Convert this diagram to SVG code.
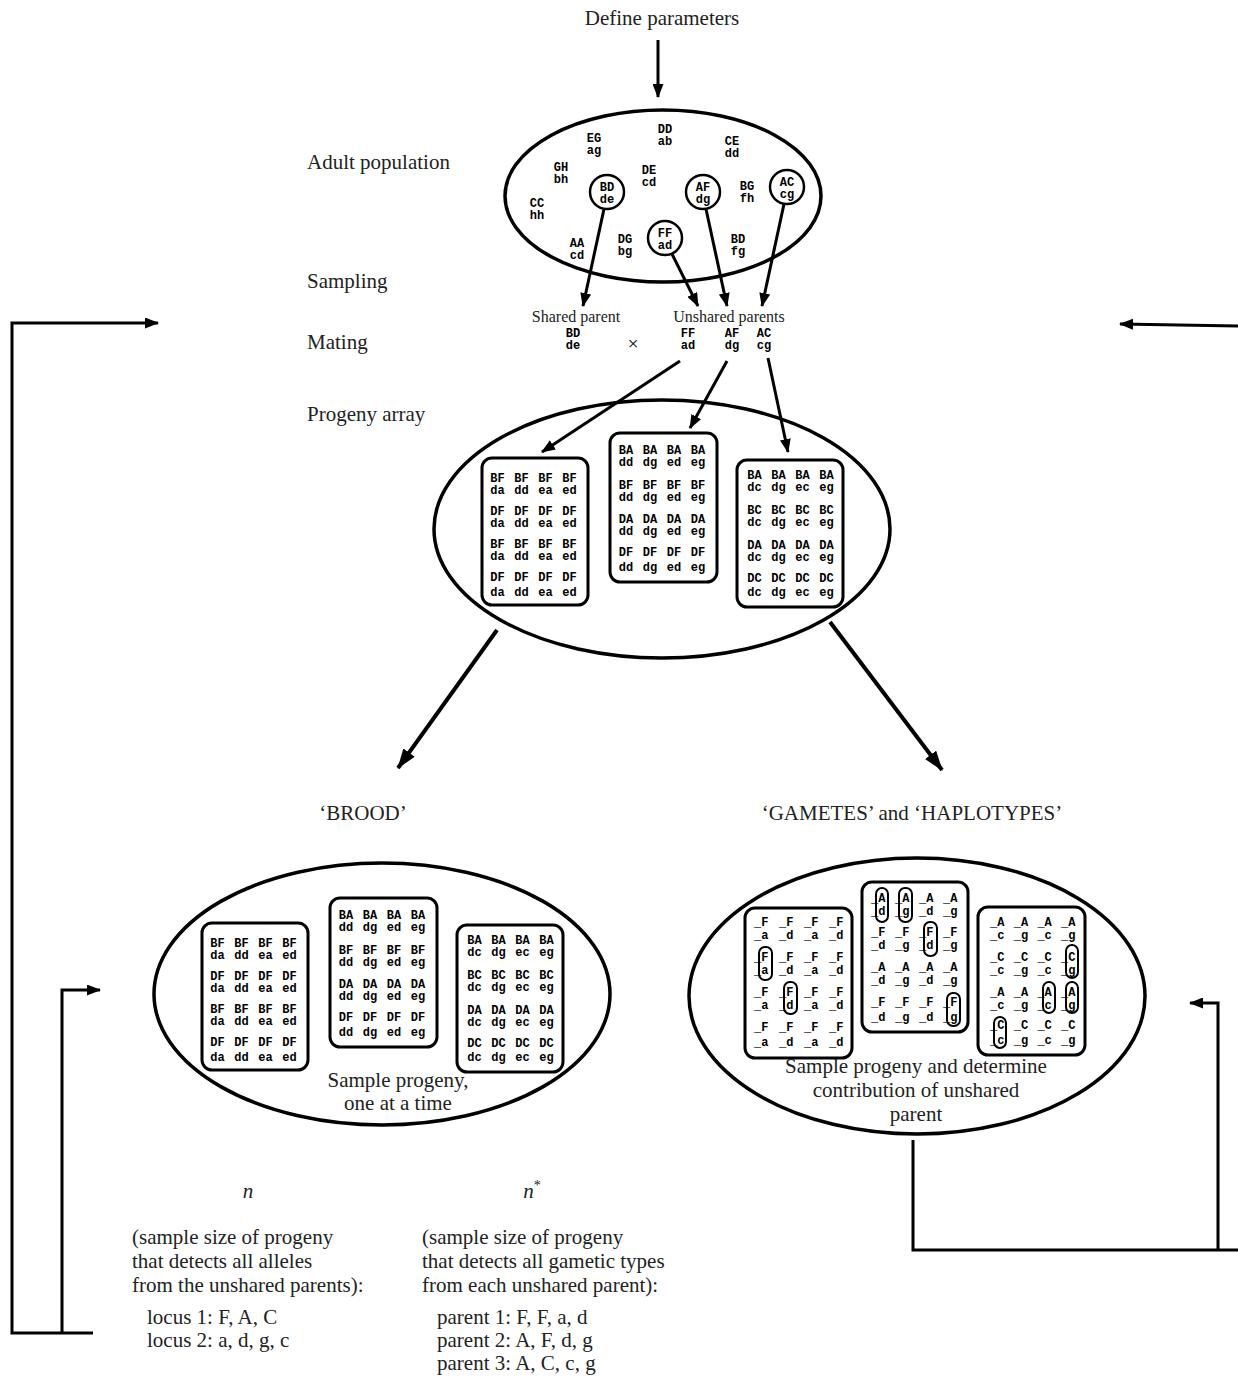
<svg xmlns="http://www.w3.org/2000/svg" xmlns:xlink="http://www.w3.org/1999/xlink" width="1238" height="1378" viewBox="0 0 1238 1378">
<style>
.s{font-family:"Liberation Serif","Times New Roman",serif;font-size:21px;fill:#222}
.ss{font-family:"Liberation Serif","Times New Roman",serif;font-size:16px;fill:#222}
.c{text-anchor:middle}
.m{font-family:"Liberation Mono","Courier New",monospace;font-weight:bold;font-size:12px;fill:#000;text-anchor:middle;word-spacing:2.4px}
.mt{font-family:"Liberation Mono","Courier New",monospace;font-weight:bold;font-size:12px;fill:#000;text-anchor:middle}
.g{font-family:"Liberation Mono","Courier New",monospace;font-weight:bold;font-size:12px;fill:#000}
.ell{fill:none;stroke:#000;stroke-width:3.5}
.box{fill:none;stroke:#000;stroke-width:3}
.pill{fill:none;stroke:#000;stroke-width:2}
.cir{fill:none;stroke:#000;stroke-width:2.5}
.ln{fill:none;stroke:#000;stroke-width:3}
.big{fill:none;stroke:#000;stroke-width:4}
</style>
<defs>
<marker id="ah" markerUnits="userSpaceOnUse" markerWidth="14" markerHeight="11" refX="13" refY="5.5" orient="auto"><path d="M0,0 L14,5.5 L0,11 z" fill="#000"/></marker>
<marker id="ahb" markerUnits="userSpaceOnUse" markerWidth="20" markerHeight="14" refX="19" refY="7" orient="auto"><path d="M0,0 L20,7 L0,14 z" fill="#000"/></marker>
<g id="prog-boxes">
<rect class="box" x="482" y="458" width="106" height="147" rx="10"/>
<text class="m" x="533.5" y="482">BF BF BF BF</text>
<text class="m" x="533.5" y="494">da dd ea ed</text>
<text class="m" x="533.5" y="515">DF DF DF DF</text>
<text class="m" x="533.5" y="527">da dd ea ed</text>
<text class="m" x="533.5" y="548">BF BF BF BF</text>
<text class="m" x="533.5" y="560">da dd ea ed</text>
<text class="m" x="533.5" y="581">DF DF DF DF</text>
<text class="m" x="533.5" y="596">da dd ea ed</text>
<rect class="box" x="610" y="433" width="107" height="149" rx="10"/>
<text class="m" x="662" y="454">BA BA BA BA</text>
<text class="m" x="662" y="466">dd dg ed eg</text>
<text class="m" x="662" y="489">BF BF BF BF</text>
<text class="m" x="662" y="501">dd dg ed eg</text>
<text class="m" x="662" y="523">DA DA DA DA</text>
<text class="m" x="662" y="535">dd dg ed eg</text>
<text class="m" x="662" y="556">DF DF DF DF</text>
<text class="m" x="662" y="571">dd dg ed eg</text>
<rect class="box" x="737" y="460" width="106" height="147" rx="10"/>
<text class="m" x="790.5" y="479">BA BA BA BA</text>
<text class="m" x="790.5" y="491">dc dg ec eg</text>
<text class="m" x="790.5" y="514">BC BC BC BC</text>
<text class="m" x="790.5" y="526">dc dg ec eg</text>
<text class="m" x="790.5" y="549">DA DA DA DA</text>
<text class="m" x="790.5" y="561">dc dg ec eg</text>
<text class="m" x="790.5" y="582">DC DC DC DC</text>
<text class="m" x="790.5" y="596">dc dg ec eg</text>
</g>
</defs>

<g id="labels">
<text class="s c" x="662" y="25">Define parameters</text>
<text class="s" x="307" y="169">Adult population</text>
<text class="s" x="307" y="288">Sampling</text>
<text class="s" x="307" y="349">Mating</text>
<text class="s" x="307" y="421">Progeny array</text>
<text class="s c" x="363" y="820">‘BROOD’</text>
<text class="s c" x="912" y="820">‘GAMETES’ and ‘HAPLOTYPES’</text>
</g>

<g id="adult-population">
<ellipse class="ell" cx="663" cy="196" rx="158" ry="86"/>
<text class="mt" x="665" y="133">DD</text><text class="mt" x="665" y="145">ab</text>
<text class="mt" x="594" y="142">EG</text><text class="mt" x="594" y="154">ag</text>
<text class="mt" x="732" y="145">CE</text><text class="mt" x="732" y="157">dd</text>
<text class="mt" x="561" y="171">GH</text><text class="mt" x="561" y="183">bh</text>
<text class="mt" x="649" y="174">DE</text><text class="mt" x="649" y="186">cd</text>
<text class="mt" x="747" y="190">BG</text><text class="mt" x="747" y="202">fh</text>
<text class="mt" x="537" y="207">CC</text><text class="mt" x="537" y="219">hh</text>
<text class="mt" x="577" y="247">AA</text><text class="mt" x="577" y="259">cd</text>
<text class="mt" x="625" y="243">DG</text><text class="mt" x="625" y="255">bg</text>
<text class="mt" x="738" y="243">BD</text><text class="mt" x="738" y="255">fg</text>
<g id="ind-BD"><circle class="cir" cx="607" cy="192" r="17"/><text class="mt" x="607" y="191">BD</text><text class="mt" x="607" y="203">de</text></g>
<g id="ind-AF"><circle class="cir" cx="703" cy="192" r="17"/><text class="mt" x="703" y="191">AF</text><text class="mt" x="703" y="203">dg</text></g>
<g id="ind-AC"><circle class="cir" cx="787" cy="187" r="17"/><text class="mt" x="787" y="186">AC</text><text class="mt" x="787" y="198">cg</text></g>
<g id="ind-FF"><circle class="cir" cx="665" cy="238" r="17"/><text class="mt" x="665" y="237">FF</text><text class="mt" x="665" y="249">ad</text></g>
</g>

<g id="mating">
<text class="ss c" x="576" y="322">Shared parent</text>
<text class="ss c" x="729" y="322">Unshared parents</text>
<text class="m" x="573" y="337">BD</text><text class="m" x="573" y="349">de</text>
<text class="s c" x="633" y="350" style="font-size:19px;fill:#000">×</text>
<text class="m" x="688" y="337">FF</text><text class="m" x="688" y="349">ad</text>
<text class="m" x="732" y="337">AF</text><text class="m" x="732" y="349">dg</text>
<text class="m" x="764" y="337">AC</text><text class="m" x="764" y="349">cg</text>
</g>

<g id="progeny-array">
<ellipse class="ell" cx="662" cy="529" rx="228" ry="129"/>
<use xlink:href="#prog-boxes"/>
</g>

<g id="brood">
<ellipse class="ell" cx="382" cy="994" rx="228" ry="131"/>
<use xlink:href="#prog-boxes" transform="translate(-280,465)"/>
<text class="s c" x="398" y="1087">Sample progeny,</text>
<text class="s c" x="398" y="1110">one at a time</text>
</g>

<g id="gametes">
<ellipse class="ell" cx="917" cy="996" rx="228" ry="138"/>
<rect class="box" x="745" y="908" width="107" height="150" rx="10"/>
<text class="g" x="754" y="926" style="word-spacing:3.4px">_F _F _F _F</text>
<text class="g" x="754" y="939" style="word-spacing:3.4px">_a _d _a _d</text>
<text class="g" x="754" y="961" style="word-spacing:3.4px">_F _F _F _F</text>
<text class="g" x="754" y="974" style="word-spacing:3.4px">_a _d _a _d</text>
<text class="g" x="754" y="996" style="word-spacing:3.4px">_F _F _F _F</text>
<text class="g" x="754" y="1009" style="word-spacing:3.4px">_a _d _a _d</text>
<text class="g" x="754" y="1031" style="word-spacing:3.4px">_F _F _F _F</text>
<text class="g" x="754" y="1046" style="word-spacing:3.4px">_a _d _a _d</text>
<rect class="pill" x="759" y="947" width="13" height="33" rx="6"/>
<rect class="pill" x="784" y="982" width="13" height="32" rx="6"/>
<rect class="box" x="862" y="882" width="106" height="150" rx="10"/>
<text class="g" x="871" y="902" style="word-spacing:2.4px">_A _A _A _A</text>
<text class="g" x="871" y="915" style="word-spacing:2.4px">_d _g _d _g</text>
<text class="g" x="871" y="936" style="word-spacing:2.4px">_F _F _F _F</text>
<text class="g" x="871" y="949" style="word-spacing:2.4px">_d _g _d _g</text>
<text class="g" x="871" y="971" style="word-spacing:2.4px">_A _A _A _A</text>
<text class="g" x="871" y="984" style="word-spacing:2.4px">_d _g _d _g</text>
<text class="g" x="871" y="1006" style="word-spacing:2.4px">_F _F _F _F</text>
<text class="g" x="871" y="1021" style="word-spacing:2.4px">_d _g _d _g</text>
<rect class="pill" x="876" y="888" width="12" height="34" rx="6"/>
<rect class="pill" x="899" y="888" width="13" height="34" rx="6"/>
<rect class="pill" x="924" y="922" width="13" height="34" rx="6"/>
<rect class="pill" x="947" y="993" width="13" height="33" rx="6"/>
<rect class="box" x="978" y="907" width="107" height="148" rx="10"/>
<text class="g" x="990" y="926" style="word-spacing:2.1px">_A _A _A _A</text>
<text class="g" x="990" y="939" style="word-spacing:2.1px">_c _g _c _g</text>
<text class="g" x="990" y="961" style="word-spacing:2.1px">_C _C _C _C</text>
<text class="g" x="990" y="974" style="word-spacing:2.1px">_c _g _c _g</text>
<text class="g" x="990" y="996" style="word-spacing:2.1px">_A _A _A _A</text>
<text class="g" x="990" y="1009" style="word-spacing:2.1px">_c _g _c _g</text>
<text class="g" x="990" y="1029" style="word-spacing:2.1px">_C _C _C _C</text>
<text class="g" x="990" y="1044" style="word-spacing:2.1px">_c _g _c _g</text>
<rect class="pill" x="1043" y="982" width="12" height="31" rx="6"/>
<rect class="pill" x="994" y="1017" width="12" height="31" rx="6"/>
<rect class="pill" x="1066" y="945" width="12" height="33" rx="6"/>
<rect class="pill" x="1066" y="982" width="12" height="31" rx="6"/>
<text class="s c" x="916" y="1073">Sample progeny and determine</text>
<text class="s c" x="916" y="1097">contribution of unshared</text>
<text class="s c" x="916" y="1121">parent</text>
</g>

<g id="result-n">
<text class="s c" x="248" y="1198" style="font-style:italic">n</text>
<text class="s" x="132" y="1244">(sample size of progeny</text>
<text class="s" x="132" y="1268">that detects all alleles</text>
<text class="s" x="132" y="1292">from the unshared parents):</text>
<text class="s" x="147" y="1324">locus 1: F, A, C</text>
<text class="s" x="147" y="1347">locus 2: a, d, g, c</text>
</g>

<g id="result-nstar">
<text class="s c" x="532" y="1198"><tspan style="font-style:italic">n</tspan><tspan dy="-8" style="font-size:14px">*</tspan></text>
<text class="s" x="422" y="1244">(sample size of progeny</text>
<text class="s" x="422" y="1268">that detects all gametic types</text>
<text class="s" x="422" y="1292">from each unshared parent):</text>
<text class="s" x="437" y="1324">parent 1: F, F, a, d</text>
<text class="s" x="437" y="1347">parent 2: A, F, d, g</text>
<text class="s" x="437" y="1370">parent 3: A, C, c, g</text>
</g>

<g id="connectors">
<line class="ln" x1="658" y1="40" x2="658" y2="97" marker-end="url(#ah)"/>
<line class="ln" x1="604" y1="209" x2="583" y2="306" marker-end="url(#ah)"/>
<line class="ln" x1="672" y1="254" x2="698" y2="306" marker-end="url(#ah)"/>
<line class="ln" x1="706" y1="209" x2="727" y2="306" marker-end="url(#ah)"/>
<line class="ln" x1="784" y1="204" x2="762" y2="306" marker-end="url(#ah)"/>
<line class="ln" x1="680" y1="361" x2="542" y2="452" marker-end="url(#ah)"/>
<line class="ln" x1="727" y1="361" x2="690" y2="428" marker-end="url(#ah)"/>
<line class="ln" x1="768" y1="358" x2="788" y2="452" marker-end="url(#ah)"/>
<line class="big" x1="497" y1="630" x2="398" y2="768" marker-end="url(#ahb)"/>
<line class="big" x1="830" y1="622" x2="942" y2="770" marker-end="url(#ahb)"/>
<polyline class="ln" points="93,1333 12,1333 12,323 158,323" marker-end="url(#ah)"/>
<polyline class="ln" points="62,1333 62,990 100,990" marker-end="url(#ah)"/>
<line class="ln" x1="1238" y1="326" x2="1120" y2="324" marker-end="url(#ah)"/>
<polyline class="ln" points="913,1140 913,1250 1238,1250"/>
<polyline class="ln" points="1218,1250 1218,1003 1190,1003" marker-end="url(#ah)"/>
</g>
</svg>
